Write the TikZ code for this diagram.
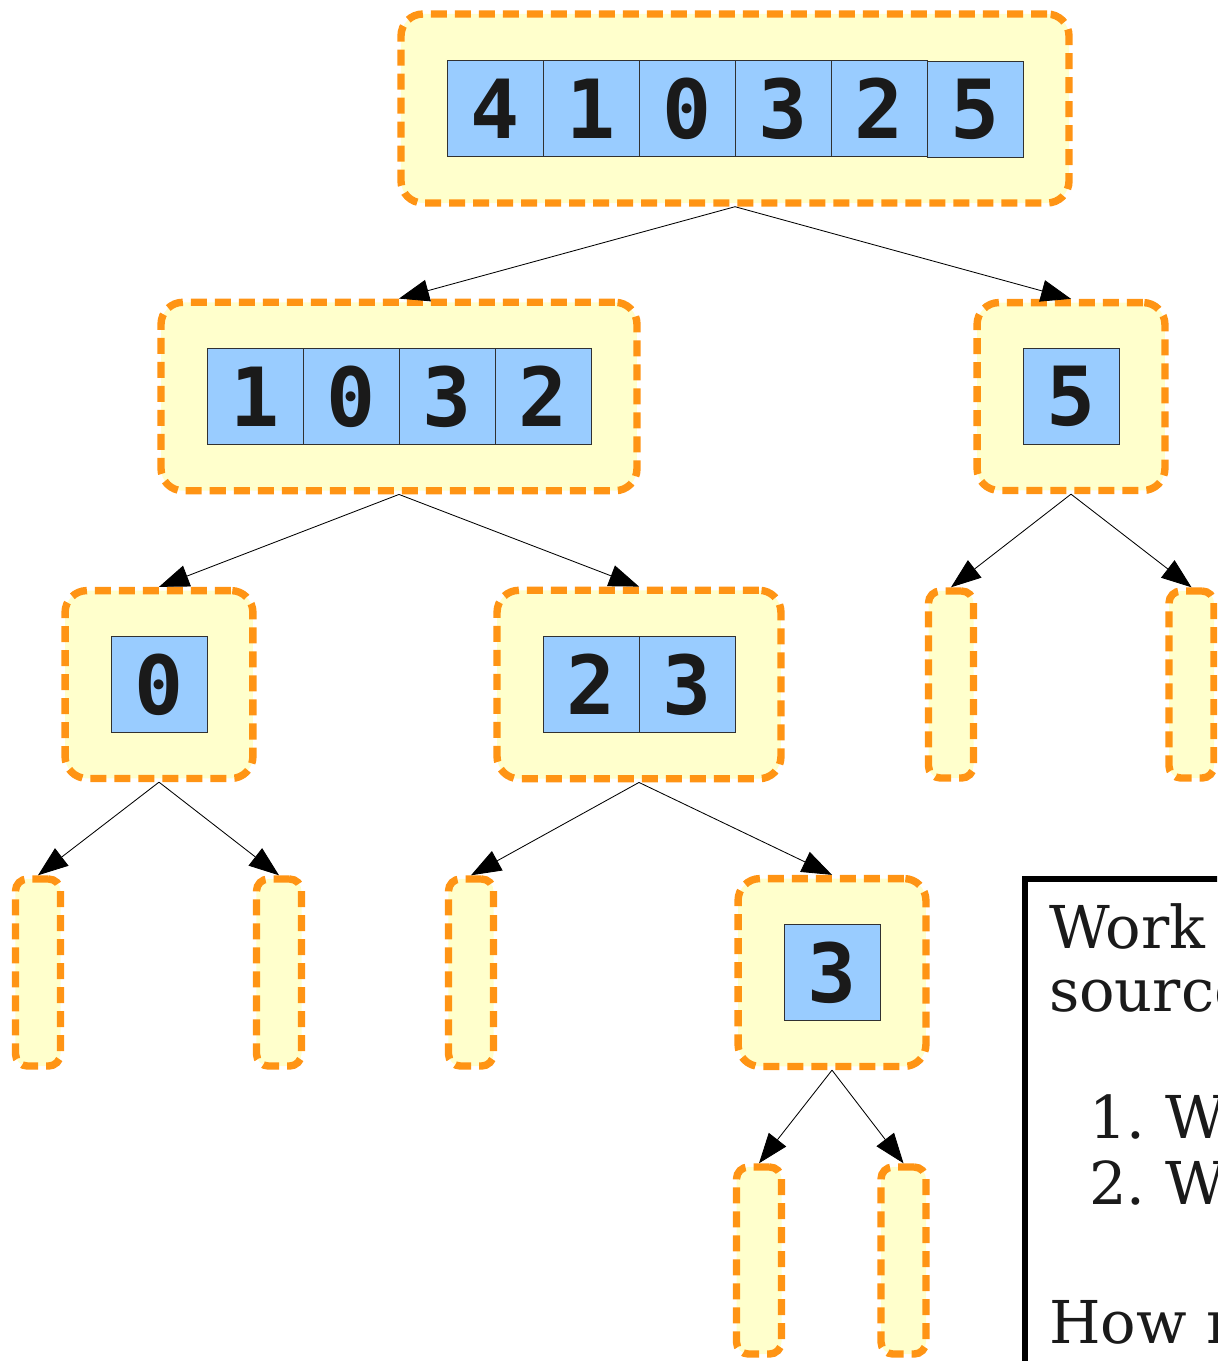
\documentclass[tikz,border=0pt]{standalone}
\usepackage{fontspec}
\usepackage{tikz}
\usetikzlibrary{shapes, arrows.meta, positioning, calc, matrix}
\newfontfamily\cellfont{DejaVu Sans Mono}
\newfontfamily\notefont{DejaVu Serif}
\definecolor{boxline}{HTML}{FF9414}
\definecolor{boxfill}{HTML}{FFFFCC}
\definecolor{cellfill}{HTML}{99CCFF}
\definecolor{ink}{HTML}{1A1A1A}
\frenchspacing

\begin{document}
\begin{tikzpicture}[x=0.025cm, y=-0.025cm,
	part/.style={draw=boxline, fill=boxfill, line width=0.185cm,
		dash pattern=on 0.4cm off 0.2cm, rounded corners=0.55cm, inner sep=1.1375cm},
	arr/.style={part, matrix of nodes, column sep=-0.6pt,
		nodes={draw=ink!90, fill=cellfill, solid, sharp corners, line width=0.6pt,
			minimum size=2.4cm, inner sep=0pt, text=ink,
			font=\cellfont\bfseries\fontsize{58}{60}\selectfont}},
	nil/.style={part, rounded corners=0.3cm, inner sep=0pt,
		minimum width=1.125cm, minimum height=4.675cm},
	split/.style={-{Triangle[length=0.75cm, width=0.55cm]}, line width=0.6pt, black}]
	\useasboundingbox (0,0) rectangle (1217,1361);
	\clip (0,0) rectangle (1217,1361);

	% partitions, level by level
	\matrix (a) [arr] at (735,108.5) {4 & 1 & 0 & 3 & 2 & 5\\};
	\matrix (b) [arr] at (399,396.5) {1 & 0 & 3 & 2\\};
	\matrix (c) [arr] at (1071,396.5) {5\\};
	\matrix (d) [arr] at (159,684.5) {0\\};
	\matrix (e) [arr] at (639,684.5) {2 & 3\\};
	\node (f) [nil] at (951,684.5) {};
	\node (g) [nil] at (1191.5,684.5) {};
	\node (h) [nil] at (38,972.5) {};
	\node (i) [nil] at (279,972.5) {};
	\node (j) [nil] at (471,972.5) {};
	\matrix (k) [arr] at (832,972.5) {3\\};
	\node (l) [nil] at (759,1260.5) {};
	\node (m) [nil] at (903.5,1260.5) {};

	\draw[split] (a.south) -- (b.north);
	\draw[split] (a.south) -- (c.north);
	\draw[split] (b.south) -- (d.north);
	\draw[split] (b.south) -- (e.north);
	\draw[split] (c.south) -- (f.north);
	\draw[split] (c.south) -- (g.north);
	\draw[split] (d.south) -- (h.north);
	\draw[split] (d.south) -- (i.north);
	\draw[split] (e.south) -- (j.north);
	\draw[split] (e.south) -- (k.north);
	\draw[split] (k.south) -- (l.north);
	\draw[split] (k.south) -- (m.north);

	% the question box
	\node (note) [draw=black, line width=0.15cm, anchor=north west, align=left,
		text width=10cm, text depth=12cm, inner xsep=0.6cm, inner ysep=0.62cm, text=ink,
		font=\notefont\fontsize{42}{44.7}\selectfont] at (1022,876)
		{Work\\ source\\[1.6cm] \hspace*{1cm}1. We\\[0.08cm] \hspace*{1cm}2. We\\[1.9cm] How m};
\end{tikzpicture}
\end{document}
